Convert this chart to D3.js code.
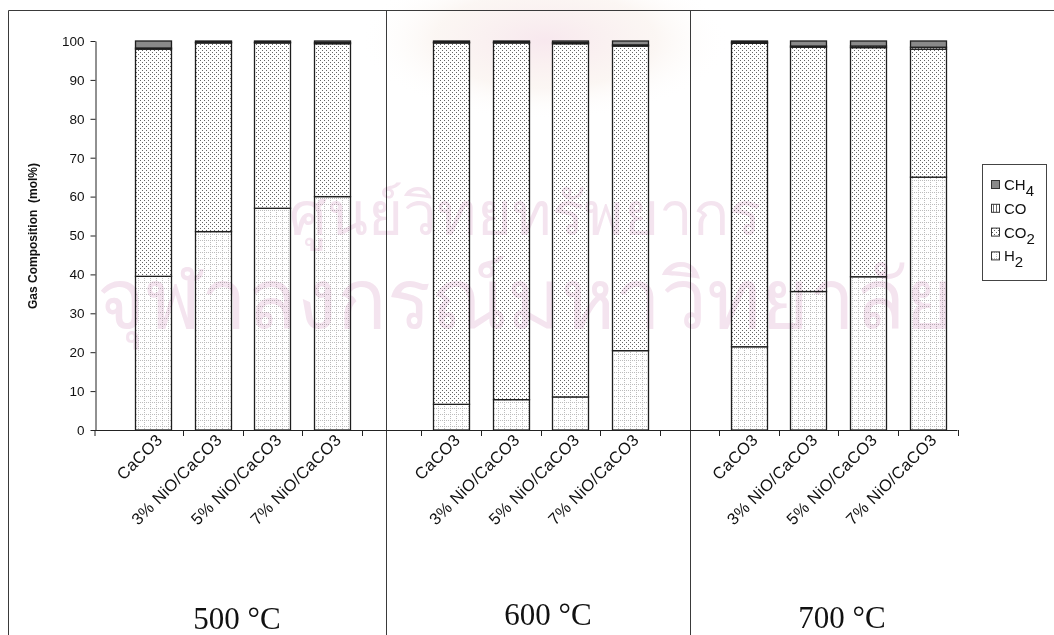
<!DOCTYPE html>
<html>
<head>
<meta charset="utf-8">
<script src="https://cdn.jsdelivr.net/npm/d3@7/dist/d3.min.js"></script>
<style>
  html, body { margin: 0; padding: 0; background: #fff; }
  #wrap { position: relative; width: 1054px; height: 635px; overflow: hidden; }
  svg { display: block; }
  #watermark {
    position: absolute; left: -2px; top: 170px; width: 1054px;
    text-align: center; white-space: pre;
    font-family: 'Noto Sans', 'DejaVu Sans', sans-serif;
    font-size: 82px; line-height: 84px;
    color: rgb(244, 228, 239);
    mix-blend-mode: multiply; pointer-events: none;
  }
  #watermark::first-line { font-size: 60px; }
</style>
</head>
<body>
<div id="wrap">
<svg id="chart" width="1054" height="635"></svg>
<div id="watermark"></div>
</div>
<script>
// Gas composition (mol%) of the product gas, by sorbent and temperature
const temperatures = ["500 °C", "600 °C", "700 °C"];
const sorbents = ["CaCO3", "3% NiO/CaCO3", "5% NiO/CaCO3", "7% NiO/CaCO3"];
const gases = ["H2", "CO2", "CO", "CH4"];

// one value per sorbent, in sorbent order
const h2_500  = [39.5, 51.0, 57.0, 60.0];
const co2_500 = [58.4, 48.5, 42.5, 39.3];
const co_500  = [0.3, 0.2, 0.2, 0.3];
const ch4_500 = [1.8, 0.3, 0.3, 0.4];

const h2_600  = [6.6, 7.8, 8.5, 20.4];
const co2_600 = [92.9, 91.7, 90.8, 78.3];
const co_600  = [0.2, 0.2, 0.3, 0.3];
const ch4_600 = [0.3, 0.3, 0.4, 1.0];

const h2_700  = [21.4, 35.6, 39.4, 65.0];
const co2_700 = [78.0, 62.8, 58.9, 32.9];
const co_700  = [0.3, 0.3, 0.4, 0.5];
const ch4_700 = [0.3, 1.3, 1.3, 1.6];

const yTicks = [0, 10, 20, 30, 40, 50, 60, 70, 80, 90, 100];

// institution name printed faintly across the page
const watermarkLines = ["ศูนย์วิทยทรัพยากร", "จุฬาลงกรณ์มหาวิทยาลัย"];

// ---- build rows ----
const seriesByTemp = [
  [h2_500, co2_500, co_500, ch4_500],
  [h2_600, co2_600, co_600, ch4_600],
  [h2_700, co2_700, co_700, ch4_700]
];
const rows = [];
const slots = [];
temperatures.forEach((t, ti) => {
  sorbents.forEach((s, si) => {
    const key = t + "|" + s;
    const row = { key, sorbent: s, temp: t };
    gases.forEach((g, gi) => { row[g] = seriesByTemp[ti][gi][si]; });
    rows.push(row);
    slots.push(key);
  });
  if (ti < temperatures.length - 1) slots.push("gap" + ti);
});

const svg = d3.select("#chart");

// ---- patterns ----
const defs = svg.append("defs");
const pH2 = defs.append("pattern").attr("id", "pat-H2")
  .attr("patternUnits", "userSpaceOnUse").attr("width", 6).attr("height", 6);
pH2.append("rect").attr("width", 6).attr("height", 6).attr("fill", "#fff");
pH2.append("path").attr("d", "M0 0.5H6M0.5 0V6")
  .attr("stroke", "#bcbcbc").attr("stroke-width", 1).attr("stroke-dasharray", "1 1");

const pCO2 = defs.append("pattern").attr("id", "pat-CO2")
  .attr("patternUnits", "userSpaceOnUse").attr("width", 4).attr("height", 4);
pCO2.append("rect").attr("width", 4).attr("height", 4).attr("fill", "#fff");
pCO2.append("rect").attr("x", 0).attr("y", 0).attr("width", 1).attr("height", 1).attr("fill", "#666");
pCO2.append("rect").attr("x", 2).attr("y", 2).attr("width", 1).attr("height", 1).attr("fill", "#666");

const pCO = defs.append("pattern").attr("id", "pat-CO")
  .attr("patternUnits", "userSpaceOnUse").attr("width", 3).attr("height", 3);
pCO.append("rect").attr("width", 3).attr("height", 3).attr("fill", "#fff");
pCO.append("rect").attr("x", 0).attr("width", 1).attr("height", 3).attr("fill", "#6a6a6a");

const fills = { H2: "url(#pat-H2)", CO2: "url(#pat-CO2)", CO: "url(#pat-CO)", CH4: "#8a8a8a" };

// ---- faint emblem glow at the top of the page ----
const glow = defs.append("radialGradient").attr("id", "emblem-glow");
glow.append("stop").attr("offset", "0%").attr("stop-color", "#f6e2ea").attr("stop-opacity", 0.8);
glow.append("stop").attr("offset", "60%").attr("stop-color", "#f8eee8").attr("stop-opacity", 0.5);
glow.append("stop").attr("offset", "100%").attr("stop-color", "#ffffff").attr("stop-opacity", 0);
svg.append("ellipse").attr("cx", 545).attr("cy", 40).attr("rx", 185).attr("ry", 80)
  .attr("fill", "url(#emblem-glow)");

// ---- frame ----
const frame = svg.append("g").attr("stroke", "#3a3a3a").attr("stroke-width", 1).attr("fill", "none");
frame.append("path").attr("d", "M8.5 635V10.5H1054");
[386.5, 690.5].forEach(x => frame.append("line").attr("x1", x).attr("x2", x).attr("y1", 10).attr("y2", 635));

// ---- scales ----
const y = d3.scaleLinear().domain([0, 100]).range([430, 41]);
const x = d3.scaleBand().domain(slots).range([123.7, 957.5]).paddingInner(0.39).paddingOuter(0.195);
const step = x.step();

// ---- stacked bars ----
const stack = d3.stack().keys(gases);
const layers = stack(rows);
const plot = svg.append("g");
plot.selectAll("g.layer").data(layers).join("g")
  .attr("class", "layer")
  .attr("fill", d => fills[d.key])
  .selectAll("rect").data(d => d).join("rect")
  .attr("x", d => Math.round(x(d.data.key)) + 0.5)
  .attr("width", Math.round(x.bandwidth()))
  .attr("y", d => y(d[1]))
  .attr("height", d => Math.max(0, y(d[0]) - y(d[1])))
  .attr("stroke", "#1e1e1e")
  .attr("stroke-width", 1.3);

// ---- y axis ----
const yAxis = svg.append("g").attr("transform", "translate(95.5,0)")
  .call(d3.axisLeft(y).tickValues(yTicks).tickSize(5).tickPadding(6).tickSizeOuter(0));
yAxis.select(".domain").attr("stroke", "#222");
yAxis.selectAll(".tick line").attr("stroke", "#222");
yAxis.selectAll(".tick text")
  .attr("font-family", "'Liberation Sans', Arial, sans-serif")
  .attr("font-size", 13.5).attr("fill", "#111");

svg.append("text")
  .attr("transform", "translate(37,236) rotate(-90)")
  .attr("text-anchor", "middle")
  .attr("font-family", "'Liberation Sans', Arial, sans-serif")
  .attr("font-size", 12).attr("font-weight", "bold").attr("fill", "#111")
  .attr("xml:space", "preserve")
  .text("Gas Composition  (mol%)");

// ---- x axis ----
const x0 = x.range()[0];
const xAxisG = svg.append("g").attr("stroke", "#222").attr("stroke-width", 1);
xAxisG.append("line").attr("x1", 95).attr("x2", x0 + step * slots.length).attr("y1", 430.5).attr("y2", 430.5);
const tickXs = [95].concat(d3.range(1, slots.length + 1).map(i => Math.round(x0 + i * step) + 0.5));
xAxisG.selectAll("line.tk").data(tickXs).join("line").attr("class", "tk")
  .attr("x1", d => d).attr("x2", d => d).attr("y1", 430).attr("y2", 436);

svg.append("g").selectAll("text").data(rows).join("text")
  .attr("transform", d => `translate(${x(d.key) + x.bandwidth() / 2 + 10},${441}) rotate(-45)`)
  .attr("text-anchor", "end")
  .attr("font-family", "'Liberation Sans', Arial, sans-serif")
  .attr("font-size", 16.5).attr("letter-spacing", 0.3).attr("fill", "#111")
  .text(d => d.sorbent);

// ---- temperature labels ----
const tempPos = [[237, 629], [548, 625], [842, 628]];
svg.append("g").selectAll("text").data(temperatures).join("text")
  .attr("x", (d, i) => tempPos[i][0]).attr("y", (d, i) => tempPos[i][1])
  .attr("text-anchor", "middle")
  .attr("font-family", "'Liberation Serif', 'Times New Roman', serif")
  .attr("font-size", 31).attr("fill", "#111")
  .text(d => d);

// ---- legend ----
const legend = svg.append("g");
legend.append("rect").attr("x", 982.5).attr("y", 164.5).attr("width", 64).attr("height", 116)
  .attr("fill", "#fff").attr("stroke", "#444");
const legendItems = [
  { key: "CH4", base: "CH", sub: "4" },
  { key: "CO", base: "CO", sub: "" },
  { key: "CO2", base: "CO", sub: "2" },
  { key: "H2", base: "H", sub: "2" }
];
legendItems.forEach((it, i) => {
  const cy = 185 + i * 23.8;
  legend.append("rect").attr("x", 991.5).attr("y", cy - 4.5).attr("width", 8).attr("height", 8)
    .attr("fill", fills[it.key]).attr("stroke", "#333");
  const t = legend.append("text").attr("x", 1004).attr("y", cy + 5)
    .attr("font-family", "'Liberation Sans', Arial, sans-serif")
    .attr("font-size", 15).attr("fill", "#111");
  t.append("tspan").text(it.base);
  if (it.sub) t.append("tspan").attr("dy", 6).text(it.sub);
});

// ---- watermark (one text block, two lines) ----
d3.select("#watermark").text(watermarkLines.join("\n"));
</script>
</body>
</html>
